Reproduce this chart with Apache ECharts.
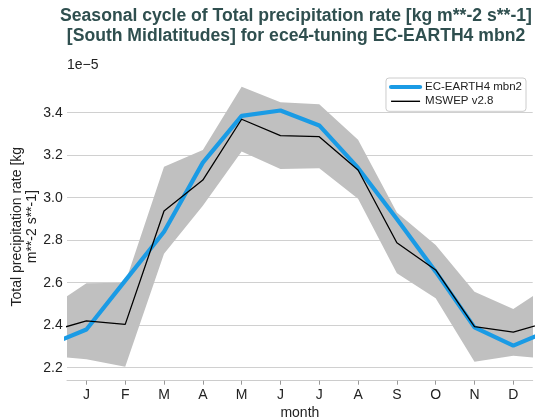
<!DOCTYPE html>
<html><head><meta charset="utf-8">
<script src="https://cdn.jsdelivr.net/npm/echarts@6/dist/echarts.min.js"></script>
<style>html,body{margin:0;padding:0;background:#fff}#c{width:552px;height:420px}</style>
</head><body><div id="c"></div>
<script>
// values in units of 1e-5 kg m**-2 s**-1
const monthLabels = ['J','F','M','A','M','J','J','A','S','O','N','D'];
const monthNum = [1,2,3,4,5,6,7,8,9,10,11,12];
const modelVals = [2.380, 2.610, 2.840, 3.165, 3.385, 3.410, 3.340, 3.140, 2.900, 2.652, 2.390, 2.304];
const obsVals   = [2.420, 2.404, 2.937, 3.083, 3.369, 3.292, 3.287, 3.130, 2.788, 2.660, 2.393, 2.368];
const bandUpper = [2.597, 2.600, 3.146, 3.224, 3.522, 3.449, 3.440, 3.272, 2.930, 2.777, 2.558, 2.476];
const bandLower = [2.240, 2.205, 2.736, 2.962, 3.217, 3.135, 3.138, 2.995, 2.644, 2.527, 2.228, 2.256];
const yTicks = [2.2, 2.4, 2.6, 2.8, 3.0, 3.2, 3.4];

const FONT = 'Liberation Sans';
// cyclic wrap: December before January, January after December
function wrap(a){ return [a[a.length-1]].concat(a, [a[0]]); }
const xs = [0].concat(monthNum, [13]);
const pairs = a => wrap(a).map((v,i)=>[xs[i], v]);
const upW = wrap(bandUpper), loW = wrap(bandLower);
const bandData = xs.map((x,i)=>[x, loW[i], upW[i]]);

const chart = echarts.init(document.getElementById('c'), null, {renderer:'canvas'});
chart.setOption({
  animation: false,
  backgroundColor: '#fff',
  title: {
    text: 'Seasonal cycle of Total precipitation rate [kg m**-2 s**-1]\n[South Midlatitudes] for ece4-tuning EC-EARTH4 mbn2',
    left: 296, top: 6, padding: 0, textAlign: 'center',
    textStyle: {fontFamily: FONT, fontSize: 17.6, fontWeight: 'bold', color: '#2f4f4f', lineHeight: 20}
  },
  grid: {left: 67, right: 19.3, top: 72.7, bottom: 39.3, containLabel: false, outerBoundsMode: 'none'},
  legend: {
    orient: 'vertical', right: 26, top: 78, padding: [3,4,4,3], itemGap: 2.3,
    itemWidth: 29, itemHeight: 13,
    borderColor: '#cccccc', borderWidth: 1, borderRadius: 3,
    backgroundColor: 'rgba(255,255,255,0.8)',
    itemStyle: {opacity: 0},
    textStyle: {fontFamily: FONT, fontSize: 11.5, color: '#222'},
    data: [
      {name: 'EC-EARTH4 mbn2', lineStyle: {width: 4.2, cap: 'round', color: '#1a9be5'}},
      {name: 'MSWEP v2.8', lineStyle: {width: 1.4, color: '#000'}}
    ]
  },
  xAxis: {
    type: 'value', min: 0.5, max: 12.5,
    name: 'month', nameLocation: 'middle', nameGap: 24.6,
    nameTextStyle: {fontFamily: FONT, fontSize: 14, color: '#222'},
    axisLine: {show: true, lineStyle: {color: '#cccccc', width: 1}},
    axisTick: {show: true, length: 4, customValues: monthNum, lineStyle: {color: '#999'}},
    axisLabel: {customValues: monthNum, formatter: v => monthLabels[Math.round(v)-1], fontFamily: FONT, fontSize: 14, color: '#222', margin: 7},
    splitLine: {show: false}
  },
  yAxis: {
    type: 'value', min: 2.139, max: 3.588,
    name: '1e\u22125', nameLocation: 'end', nameGap: 1,
    nameTextStyle: {fontFamily: FONT, fontSize: 14, color: '#222', align: 'left', verticalAlign: 'bottom'},
    axisLine: {show: false},
    axisTick: {show: false, customValues: yTicks},
    axisLabel: {customValues: yTicks, formatter: v => v.toFixed(1), fontFamily: FONT, fontSize: 14, color: '#222', margin: 4.3},
    splitLine: {show: true, lineStyle: {color: '#d0d0d0', width: 1}}
  },
  graphic: [{
    type: 'text', x: 24.5, y: 226.7, rotation: Math.PI/2,
    style: {text: 'Total precipitation rate [kg\nm**-2 s**-1]', align: 'center', verticalAlign: 'middle',
            font: '14px "Liberation Sans"', lineHeight: 15, fill: '#222'}
  }],
  series: [
    {
      type: 'custom', name: 'band', clip: true, silent: true, z: 1,
      data: bandData,
      encode: {x: 0, y: [1, 2]},
      renderItem: function(params, api){
        if (params.dataIndex !== 1) return;
        const pts = [];
        for (let i = 0; i < bandData.length; i++) pts.push(api.coord([bandData[i][0], bandData[i][2]]));
        for (let i = bandData.length-1; i >= 0; i--) pts.push(api.coord([bandData[i][0], bandData[i][1]]));
        return {type: 'polygon', shape: {points: pts}, style: {fill: '#c0c0c0'}};
      }
    },
    {
      type: 'line', name: 'EC-EARTH4 mbn2', data: pairs(modelVals), showSymbol: false, symbol: 'none',
      clip: true, z: 3,
      lineStyle: {color: '#1a9be5', width: 4.2}, itemStyle: {color: '#1a9be5'}
    },
    {
      type: 'line', name: 'MSWEP v2.8', data: pairs(obsVals), showSymbol: false, symbol: 'none',
      clip: true, z: 4,
      lineStyle: {color: '#000', width: 1.3}, itemStyle: {color: '#000'}
    }
  ]
});
</script></body></html>
